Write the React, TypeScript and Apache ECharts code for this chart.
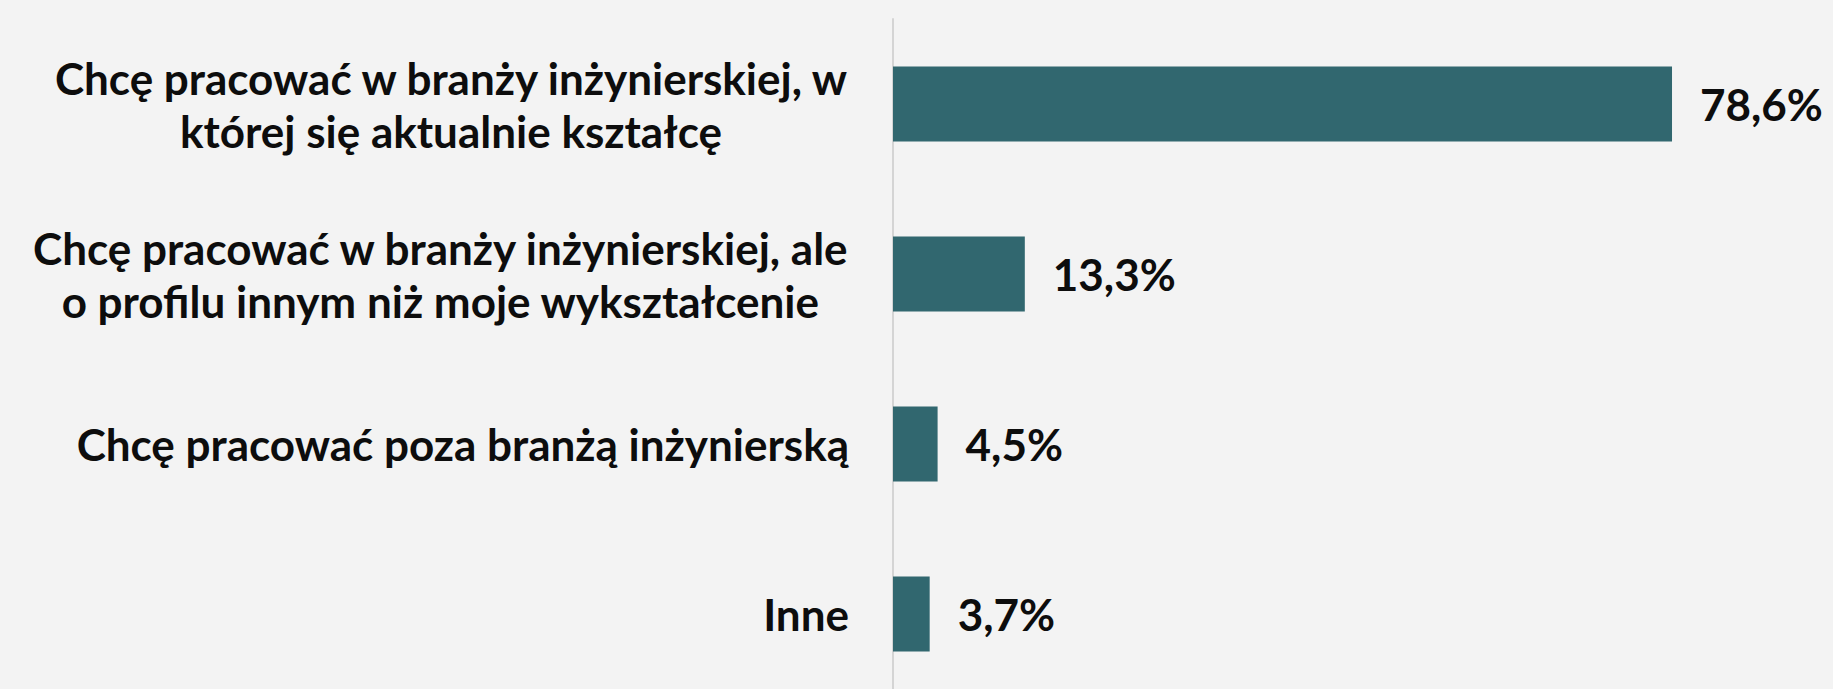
import React, { useEffect, useRef } from "react";
import * as echarts from "echarts";

const categories: string[] = [
  "Chcę pracować w branży inżynierskiej, w\nktórej się aktualnie kształcę",
  "Chcę pracować w branży inżynierskiej, ale\no profilu innym niż moje wykształcenie",
  "Chcę pracować poza branżą inżynierską",
  "Inne",
];
const values: number[] = [78.6, 13.3, 4.5, 3.7];

const FONT = "Lato";

export default function App() {
  const ref = useRef<HTMLDivElement>(null);
  useEffect(() => {
    if (!ref.current) return;
    const chart = echarts.init(ref.current, undefined, { renderer: "svg" });
    chart.setOption({
      animation: false,
      backgroundColor: "#f3f3f3",
      grid: {
        left: 893,
        right: 48,
        top: 19,
        bottom: 0,
        containLabel: false,
        outerBoundsMode: "none",
      },
      xAxis: {
        type: "value",
        min: 0,
        max: 90,
        show: false,
      },
      yAxis: {
        type: "category",
        inverse: true,
        data: categories,
        axisLine: { show: true, lineStyle: { color: "#d4d4d4", width: 2 } },
        axisTick: { show: false },
        axisLabel: {
          margin: 44,
          align: "right",
          formatter: (v: string) =>
            v
              .split("\n")
              .map((l) => `{c|${l}}`)
              .join("\n"),
          rich: {
            c: {
              align: "center",
              fontFamily: FONT,
              fontWeight: "bold",
              fontSize: 44,
              lineHeight: 53,
              color: "#0d0d0d",
            },
          },
        },
      },
      series: [
        {
          type: "bar",
          data: values,
          barWidth: 75,
          itemStyle: { color: "#31676f" },
          label: {
            show: true,
            position: "right",
            distance: 28,
            formatter: (p: any) => `${String(p.value).replace(".", ",")}%`,
            fontFamily: FONT,
            fontWeight: "bold",
            fontSize: 44,
            color: "#0d0d0d",
          },
        },
      ],
    });
    return () => chart.dispose();
  }, []);
  return (
    <div
      ref={ref}
      style={{ position: "fixed", left: 0, top: 0, width: 1833, height: 699 }}
    />
  );
}
